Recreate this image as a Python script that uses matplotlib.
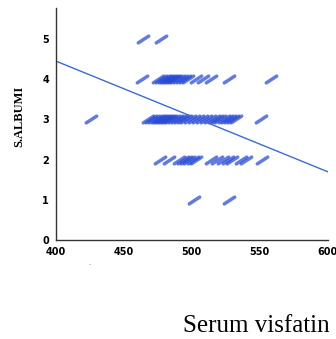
import numpy as np
import matplotlib
matplotlib.use("Agg")
import matplotlib.pyplot as plt
from matplotlib.path import Path
from matplotlib.markers import MarkerStyle

# serum visfatin (x) vs serum albumin (y)
visfatin_5 = [464, 477]
visfatin_4 = [463.5, 475.3, 477.5, 479.7, 481.2, 482.7, 484.1, 485.6, 487.1,
              488.6, 490.8, 493, 495.2, 497.4, 503.3, 508.5, 514.4, 527, 558]
visfatin_3 = [426, 467.9, 470.1, 472.3, 474.5, 476, 477.5, 479, 480.4, 481.9,
              483.4, 484.9, 487.1, 489.3, 491.5, 493.7, 495.9, 498.9, 501.8,
              504.8, 507.7, 510.7, 513.7, 516.6, 518.8, 521, 524, 526.2,
              528.4, 530.6, 532.8, 551]
visfatin_2 = [476.8, 483.4, 490.8, 493.7, 495.9, 498.2, 501.1, 503.3, 514.4,
              518.8, 523.2, 526.9, 529.9, 536.5, 540.2, 552]
visfatin_1 = [501.8, 527]

# fitted line end points
fit_x = [400, 600]
fit_y = [4.45, 1.70]

xticks = [400, 450, 500, 550, 600]
yticks = [0, 1, 2, 3, 4, 5]

xs = visfatin_5 + visfatin_4 + visfatin_3 + visfatin_2 + visfatin_1
ys = ([5] * len(visfatin_5) + [4] * len(visfatin_4) + [3] * len(visfatin_3)
      + [2] * len(visfatin_2) + [1] * len(visfatin_1))

# slanted dash marker with round ends
dash = MarkerStyle(Path([(-1, -0.65), (1, 0.65)], [Path.MOVETO, Path.LINETO]),
                   capstyle='round')

fig = plt.figure(figsize=(3.36, 3.39), dpi=100)
ax = fig.add_axes([0.167, 0.292, 0.808, 0.684])

ax.plot(xs, ys, linestyle='none', marker=dash, markersize=7.5,
        markeredgewidth=2.5, markeredgecolor='#2448d6', alpha=0.72)
ax.plot(fit_x, fit_y, color='#3a6ad8', linewidth=1)

ax.set_xlim(400, 600)
ax.set_ylim(0, 5.77)
ax.set_xticks(xticks)
ax.set_yticks(yticks)
ax.tick_params(length=0, labelsize=7, pad=5)
for lab in ax.get_xticklabels() + ax.get_yticklabels():
    lab.set_fontweight('bold')

for side in ['top', 'right']:
    ax.spines[side].set_visible(False)
for side in ['left', 'bottom']:
    ax.spines[side].set_color('#333333')
    ax.spines[side].set_linewidth(1)

ax.set_ylabel('S.ALBUMI', fontsize=9, fontweight='bold',
              family='Liberation Serif')
ax.yaxis.set_label_coords(-0.115, 0.535)

fig.text(0.262, 0.218, '.', fontsize=5, color='#555555')
fig.text(0.762, 0.022, 'Serum visfatin', fontsize=18,
         family='Liberation Serif', ha='center', va='baseline')

fig.savefig('out.png', dpi=100)
